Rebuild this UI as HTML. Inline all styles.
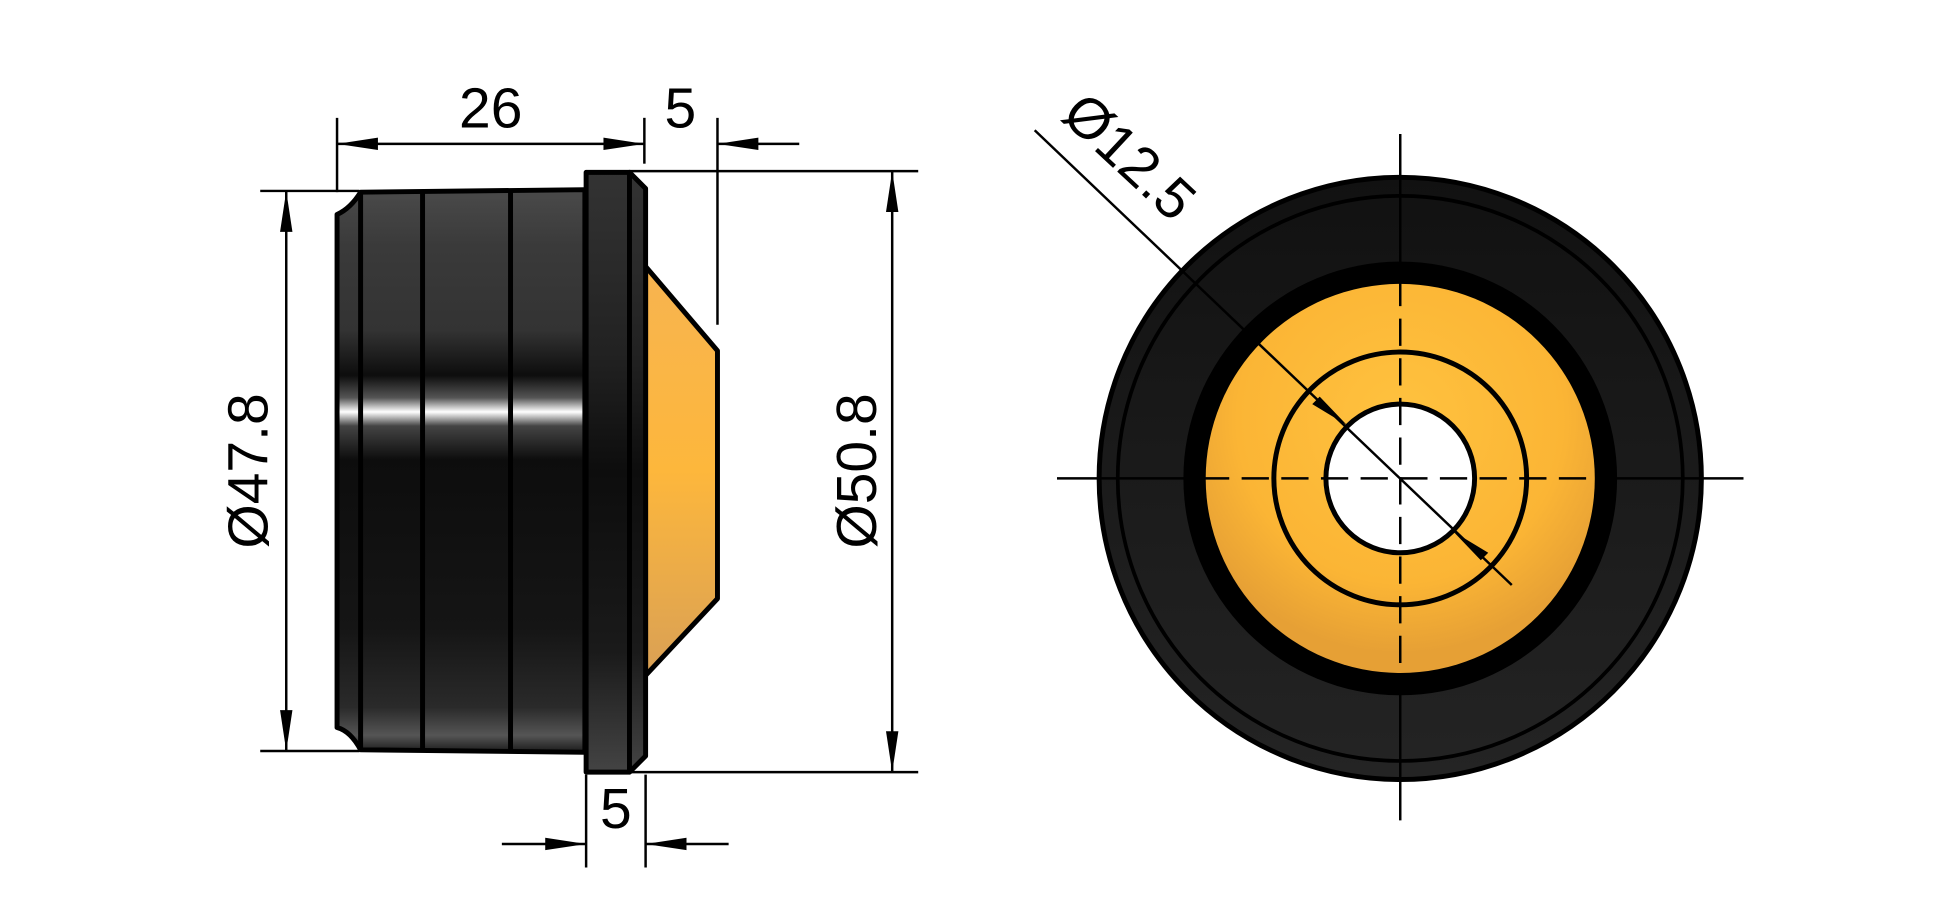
<!DOCTYPE html>
<html><head><style>html,body{margin:0;padding:0;background:#fff}svg{display:block}</style></head>
<body>
<svg width="1943" height="911" viewBox="0 0 1568 735" xmlns="http://www.w3.org/2000/svg" font-family="Liberation Sans, sans-serif">
<defs>
<linearGradient id="body" x1="0" y1="0" x2="0" y2="1">
<stop offset="0" stop-color="#4a4a4a"/><stop offset="0.1" stop-color="#3a3a3a"/><stop offset="0.25" stop-color="#333"/>
<stop offset="0.33" stop-color="#0d0d0d"/><stop offset="0.37" stop-color="#555"/><stop offset="0.395" stop-color="#fff"/>
<stop offset="0.42" stop-color="#444"/><stop offset="0.48" stop-color="#0d0d0d"/><stop offset="0.78" stop-color="#151515"/>
<stop offset="0.92" stop-color="#2a2a2a"/><stop offset="0.97" stop-color="#555"/><stop offset="1" stop-color="#1a1a1a"/>
</linearGradient>
<linearGradient id="fl" x1="0" y1="0" x2="0" y2="1">
<stop offset="0" stop-color="#333"/><stop offset="0.3" stop-color="#222"/><stop offset="0.5" stop-color="#0d0d0d"/><stop offset="0.8" stop-color="#1a1a1a"/><stop offset="1" stop-color="#444"/>
</linearGradient>
<linearGradient id="cone" x1="0" y1="0" x2="0" y2="1">
<stop offset="0" stop-color="#f7b450"/><stop offset="0.5" stop-color="#fdb73c"/><stop offset="1" stop-color="#d9a055"/>
</linearGradient>
<radialGradient id="or" cx="0.5" cy="0.35" r="0.6">
<stop offset="0" stop-color="#ffc23f"/><stop offset="0.7" stop-color="#fbb535"/><stop offset="1" stop-color="#e6a035"/>
</radialGradient>
<linearGradient id="ring" x1="0" y1="0" x2="0" y2="1">
<stop offset="0" stop-color="#111"/><stop offset="1" stop-color="#242424"/>
</linearGradient>
</defs>
<g stroke="#000" fill="none" stroke-width="2">
<line x1="272" y1="95" x2="272" y2="155"/>
<line x1="520" y1="95" x2="520" y2="132"/>
<line x1="579" y1="95" x2="579" y2="262"/>
<line x1="272" y1="116" x2="520" y2="116"/>
<line x1="579" y1="116" x2="645" y2="116"/>
<line x1="210" y1="154" x2="290" y2="154"/>
<line x1="210" y1="606" x2="290" y2="606"/>
<line x1="231" y1="154" x2="231" y2="606"/>
<line x1="508" y1="138" x2="741" y2="138"/>
<line x1="508" y1="623" x2="741" y2="623"/>
<line x1="720" y1="138" x2="720" y2="623"/>
<line x1="473" y1="625" x2="473" y2="700"/>
<line x1="521" y1="625" x2="521" y2="700"/>
<line x1="405" y1="681" x2="473" y2="681"/>
<line x1="521" y1="681" x2="588" y2="681"/>
</g>
<g fill="#000">
<polygon points="272,116 305,111 305,121"/>
<polygon points="520,116 487,111 487,121"/>
<polygon points="579,116 612,111 612,121"/>
<polygon points="231,154 226,187 236,187"/>
<polygon points="231,606 226,573 236,573"/>
<polygon points="720,138 715,171 725,171"/>
<polygon points="720,623 715,590 725,590"/>
<polygon points="473,681 440,676 440,686"/>
<polygon points="521,681 554,676 554,686"/>
</g>
<g font-size="46" fill="#000" text-anchor="middle">
<text x="396" y="103">26</text>
<text x="549" y="103">5</text>
<text x="497" y="668">5</text>
<text transform="translate(216,380) rotate(-90)">Ø47.8</text>
<text transform="translate(707,380) rotate(-90)">Ø50.8</text>
</g>
<g stroke="#000" stroke-width="4" stroke-linejoin="round">
<path d="M291,155 L472,153 L472,607 L291,605 Q283,590 272,587 L272,173 Q283,168 291,155 Z" fill="url(#body)"/>
<line x1="291" y1="155" x2="291" y2="605"/>
<line x1="341" y1="155" x2="341" y2="606"/>
<line x1="412" y1="154" x2="412" y2="607"/>
<path d="M521,215 L579,283 L579,483 L521,545 Z" fill="url(#cone)"/>
<rect x="473" y="139" width="35" height="484" fill="url(#fl)"/>
<path d="M508,139 L521,152 L521,610 L508,623 Z" fill="url(#fl)"/>
</g>
<circle cx="1130" cy="386" r="243" fill="url(#ring)" stroke="#000" stroke-width="4"/>
<circle cx="1130" cy="386" r="228" fill="none" stroke="#000" stroke-width="3"/>
<circle cx="1130" cy="386" r="175" fill="#000"/>
<circle cx="1130" cy="386" r="157" fill="url(#or)"/>
<circle cx="1130" cy="386" r="102" fill="none" stroke="#000" stroke-width="4"/>
<circle cx="1130" cy="386" r="60" fill="#fff" stroke="#000" stroke-width="4"/>
<g stroke="#000" stroke-width="2">
<line x1="1130" y1="108" x2="1130" y2="225"/>
<line x1="1130" y1="548" x2="1130" y2="662"/>
<line x1="853" y1="386" x2="970" y2="386"/>
<line x1="1290" y1="386" x2="1407" y2="386"/>
<line x1="1130" y1="225" x2="1130" y2="548" stroke-dasharray="22,10"/>
<line x1="970" y1="386" x2="1290" y2="386" stroke-dasharray="22,10"/>
<line x1="835" y1="105" x2="1220" y2="472"/>
</g>
<polygon points="1087,343 1059,326 1065,320" fill="#000"/>
<polygon points="1173,429 1201,446 1195,452" fill="#000"/>
<text transform="translate(855,95) rotate(43)" font-size="46" fill="#000">Ø12.5</text>
</svg>
</body></html>
